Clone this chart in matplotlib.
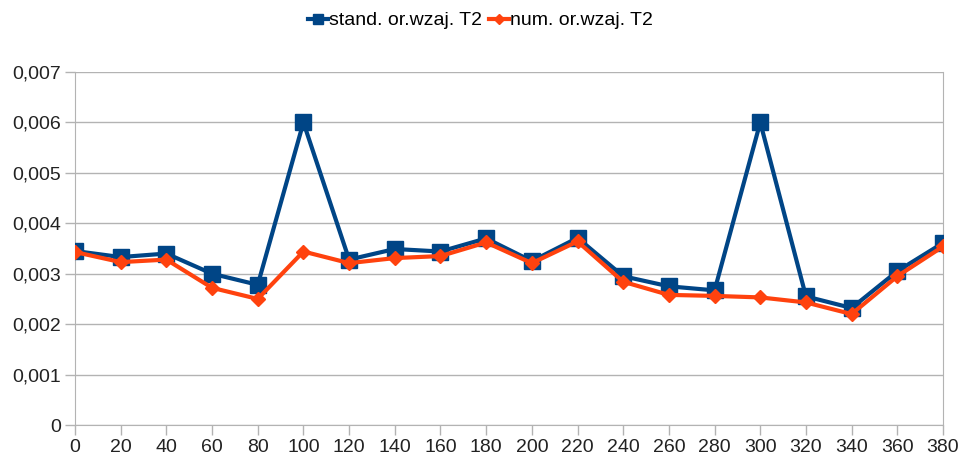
import matplotlib.pyplot as plt
from matplotlib.ticker import FuncFormatter, MultipleLocator

plt.rcParams['font.family'] = ['Liberation Sans', 'DejaVu Sans']

x = [0, 20, 40, 60, 80, 100, 120, 140, 160, 180, 200, 220, 240, 260, 280, 300, 320, 340, 360, 380]
stand = [0.00345, 0.00333, 0.00340, 0.00300, 0.00278, 0.00600, 0.00328, 0.00349, 0.00344, 0.00370,
         0.00325, 0.00371, 0.00295, 0.00275, 0.00267, 0.00600, 0.00255, 0.00232, 0.00305, 0.00361]
num = [0.00343, 0.00323, 0.00328, 0.00272, 0.00250, 0.00344, 0.00321, 0.00331, 0.00335, 0.00362,
       0.00321, 0.00364, 0.00284, 0.00258, 0.00256, 0.00253, 0.00243, 0.00220, 0.00295, 0.00354]

blue = '#004586'
orange = '#ff420e'
grid = '#b3b3b3'

fig = plt.figure(figsize=(9.61, 4.68), dpi=100)
ax = fig.add_axes([75 / 961, 1 - 425 / 468, (943 - 75) / 961, (425 - 72) / 468])

ax.plot(x, stand, color=blue, lw=3, marker='s', markersize=11, label='stand. or.wzaj. T2', zorder=3)
ax.plot(x, num, color=orange, lw=3, marker='D', markersize=7, label='num. or.wzaj. T2', zorder=4)

ax.set_xlim(0, 380)
ax.set_ylim(0, 0.007)
ax.set_xticks(x)
ax.yaxis.set_major_locator(MultipleLocator(0.001))
ax.yaxis.set_major_formatter(FuncFormatter(lambda v, p: '0' if abs(v) < 1e-12 else ('%.3f' % v).replace('.', ',')))
ax.grid(axis='y', color=grid, lw=1)
ax.set_axisbelow(True)
for s in ax.spines.values():
    s.set_color(grid)
ax.spines['top'].set_visible(False)
ax.tick_params(axis='both', colors=grid, labelcolor='#222222', labelsize=14, length=7, width=1)
ax.tick_params(axis='x', pad=3)
ax.tick_params(axis='y', pad=3)

fig.legend(loc='upper center', bbox_to_anchor=(0.5, 1.012), ncol=2, frameon=False, fontsize=14,
           handlelength=1.0, handletextpad=0.05, columnspacing=0.4, markerscale=0.7)

fig.savefig('out.png', dpi=100)
